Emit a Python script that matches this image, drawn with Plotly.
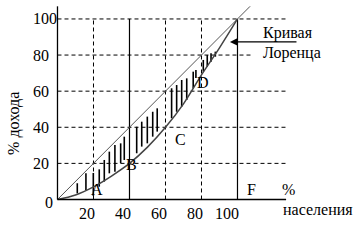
import plotly.graph_objects as go

# ---- data ----
grid_vals = [20, 40, 60, 80, 100]
x_tick_labels = ["20", "40", "60", "80", "100"]
y_tick_labels = ["20", "40", "60", "80", "100"]

equality_x = [0, 107]
equality_y = [0, 107]

lorenz_x = [0, 10, 20, 30, 40, 50, 60, 70, 80, 90, 100]
lorenz_y = [0, 2.5, 7, 13, 20, 29, 40, 53, 69, 84, 100]

hatch_x = [11.0, 15.8, 19.9, 23.2, 26.0, 28.8, 31.9, 35.1, 37.1, 44.0, 46.8, 49.9,
           52.9, 55.4, 63.4, 66.2, 69.0, 71.8, 75.4, 76.9, 81.0, 83.2, 85.3, 87.7]
hatch_top = [9.0, 14.5, 14.7, 16.7, 21.9, 26.5, 30.2, 31.1, 34.8, 40.3, 43.1, 45.9,
             48.6, 50.5, 61.6, 63.4, 66.2, 67.1, 70.8, 71.7, 77.3, 80.0, 81.0, 81.9]
hatch_bot = [3.4, 5.3, 2.0, 7.1, 9.9, 14.5, 15.4, 20.1, 21.9, 25.6, 29.3, 31.1,
             34.8, 37.6, 45.0, 48.6, 51.4, 55.1, 61.6, 67.3, 70.8, 73.6, 76.3, 79.1]

point_labels = ["A", "B", "C", "D", "F"]
point_x = [22, 41, 68.5, 81, 108]
point_y = [5.8, 19.2, 33, 65, 5.3]

FONT = "'Liberation Serif', 'Times New Roman', 'DejaVu Serif', serif"
fig = go.Figure()

def line(xs, ys, color="black", width=1, dash="solid"):
    fig.add_trace(go.Scatter(x=xs, y=ys, mode="lines", hoverinfo="skip",
                             line=dict(color=color, width=width, dash=dash)))

# dashed grid
for v in grid_vals:
    if v in (40, 100):
        continue
    line([v, v], [0, 100], width=1, dash="4px,3px")
for v in grid_vals:
    xend = 108 if v == 80 else 127
    line([0, xend], [v, v], width=1, dash="4px,3px")
# solid verticals
line([40, 40], [0, 100], width=1.2)
line([100, 100], [0, 100], width=1.2)

# hatching
hx, hy = [], []
for x, t, b in zip(hatch_x, hatch_top, hatch_bot):
    hx += [x, x, None]
    hy += [t, b, None]
line(hx, hy, color="black", width=1.6)

# equality line and Lorenz curve
line(equality_x, equality_y, color="#555555", width=1)
fig.add_trace(go.Scatter(x=lorenz_x, y=lorenz_y, mode="lines", hoverinfo="skip",
                         line=dict(color="#444444", width=1.5, shape="spline")))

# axes
line([0, 0], [0, 107], width=1.3)
line([0, 127], [0, 0], width=1.3)

ann = []
for v, t in zip(grid_vals, x_tick_labels):
    ann.append(dict(x=v, y=-7.5, text=t, xanchor="right", yanchor="middle", xshift=4))
for v, t in zip(grid_vals, y_tick_labels):
    ann.append(dict(x=-14.5, y=v, text=t, xanchor="left", yanchor="middle"))
ann.append(dict(x=-8.2, y=-1.7, text="0", xanchor="left", yanchor="middle"))
for t, x, y in zip(point_labels, point_x, point_y):
    ann.append(dict(x=x, y=y, text=t, xanchor="center", yanchor="middle"))
ann.append(dict(x=128.4, y=5.3, text="%", xanchor="center", yanchor="middle"))
ann.append(dict(x=145, y=-5.8, text="населения", xanchor="center", yanchor="middle"))
ann.append(dict(x=127.8, y=92.2, text="Кривая", xanchor="center", yanchor="middle"))
ann.append(dict(x=130.3, y=81.2, text="Лоренца", xanchor="center", yanchor="middle"))
ann.append(dict(x=-24.2, y=42.4, text="% дохода", textangle=-90,
                xanchor="center", yanchor="middle"))
for a in ann:
    a.update(xref="x", yref="y", showarrow=False, font=dict(family=FONT, size=16, color="black"))
# arrow
ann.append(dict(x=95.8, y=87.3, ax=133.6, ay=87.3, xref="x", yref="y", axref="x", ayref="y",
                text="", showarrow=True, arrowhead=2, arrowsize=1.3, arrowwidth=1.2,
                arrowcolor="black"))

fig.update_layout(
    width=362, height=241, margin=dict(l=0, r=0, t=0, b=0),
    paper_bgcolor="white", plot_bgcolor="white", showlegend=False,
    font=dict(family=FONT),
    xaxis=dict(range=[-31.94, 169.17], visible=False, fixedrange=True),
    yaxis=dict(range=[-22.99, 110.5], visible=False, fixedrange=True),
    annotations=ann,
)
fig.write_html("out.html")
